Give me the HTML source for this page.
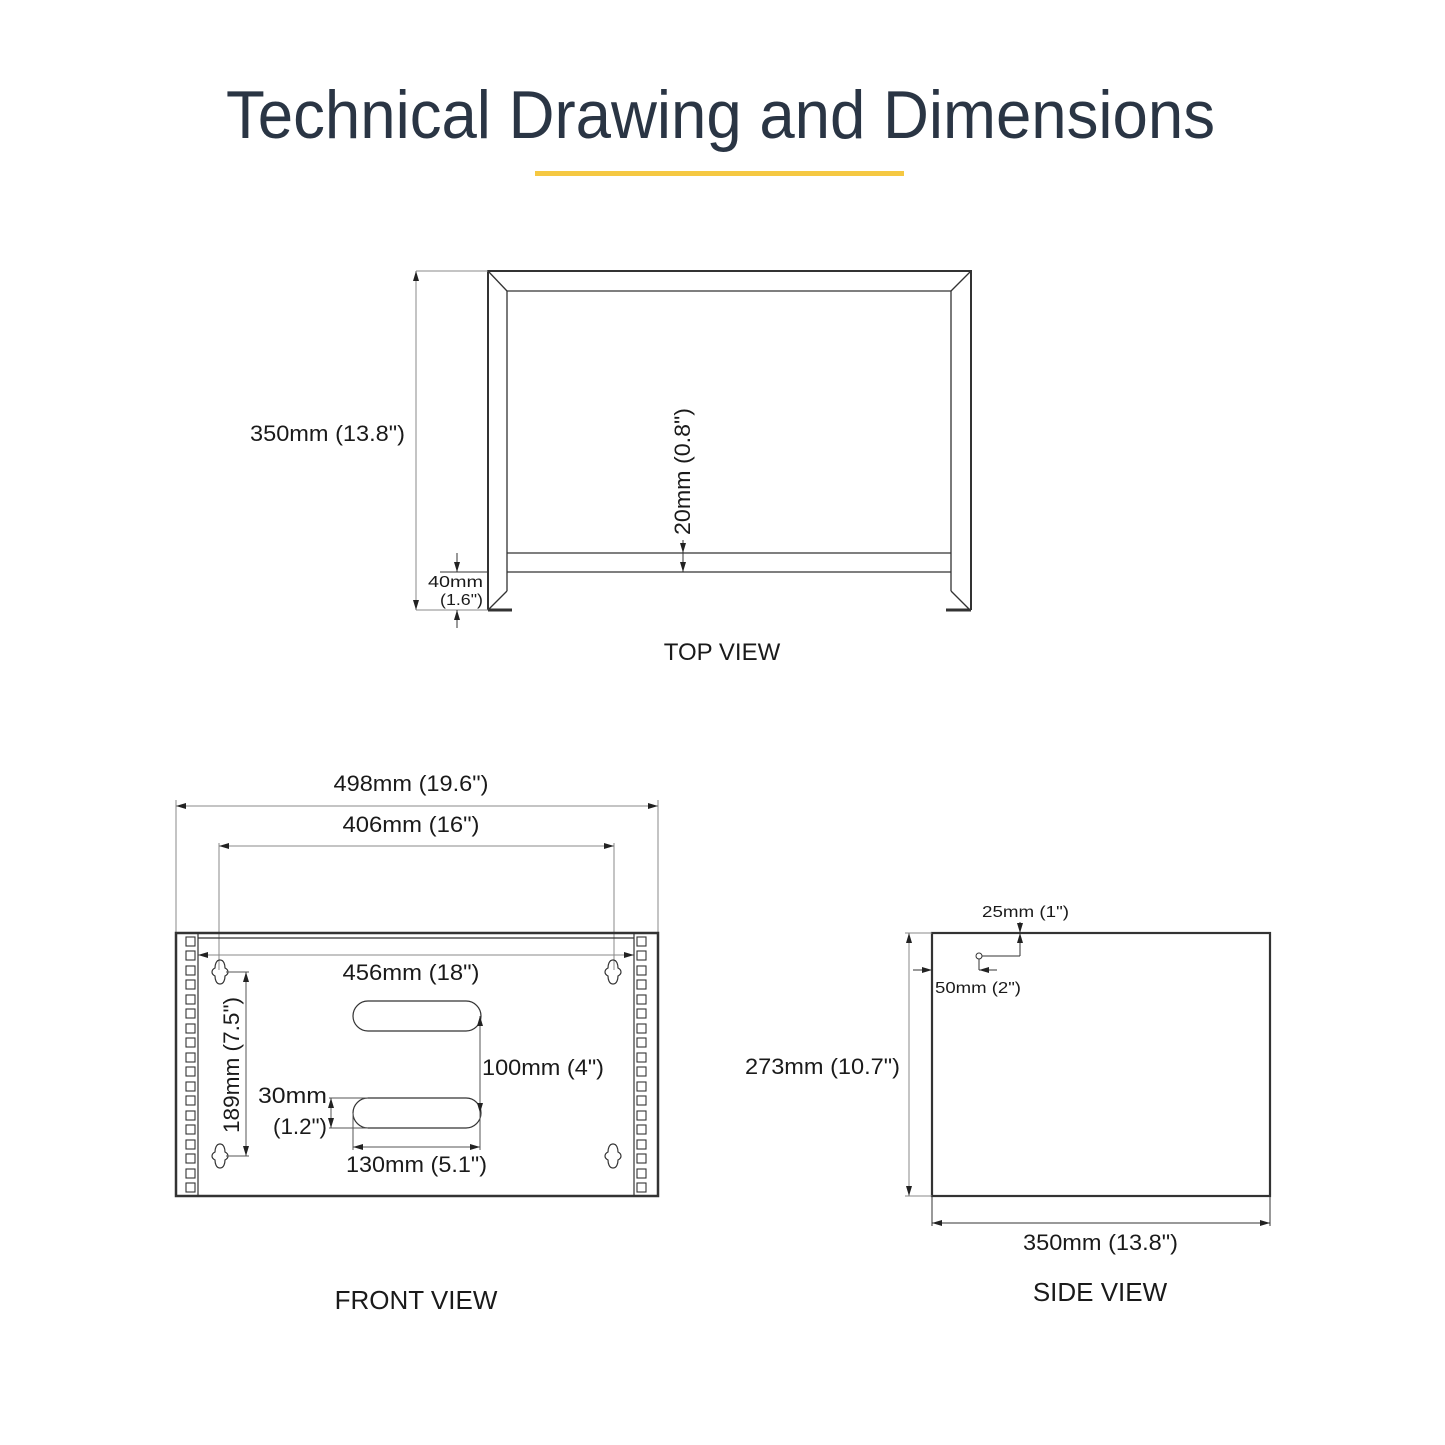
<!DOCTYPE html>
<html><head><meta charset="utf-8"><style>
html,body{margin:0;padding:0;background:#fff;}
svg{display:block;}
text{font-family:"Liberation Sans",sans-serif;fill:#1a1a1a;}
</style></head><body>
<svg width="1445" height="1445" viewBox="0 0 1445 1445" xmlns="http://www.w3.org/2000/svg">
<defs>
<marker id="a" viewBox="0 0 10 6" refX="10" refY="3" markerWidth="10" markerHeight="6" orient="auto-start-reverse" markerUnits="userSpaceOnUse"><path d="M0,0 L10,3 L0,6 z" fill="#222"/></marker>
<path id="kh" d="M0,-12 C4,-12 5,-7 5,-4 C9,-2 9,2 5,4 C5,7 4,12 0,12 C-4,12 -5,7 -5,4 C-9,2 -9,-2 -5,-4 C-5,-7 -4,-12 0,-12 Z" fill="none" stroke="#333" stroke-width="1.2"/>
</defs>
<text x="226" y="138" font-size="68" textLength="989" lengthAdjust="spacingAndGlyphs" style="fill:#2a3544;font-weight:300">Technical Drawing and Dimensions</text>
<rect x="535" y="171" width="369" height="5" fill="#f5c842"/>

<!-- TOP VIEW -->
<g fill="none" stroke="#333" stroke-width="2">
<path d="M488,610 L488,271 L971,271 L971,610"/>
</g>
<g fill="none" stroke="#333" stroke-width="1.3">
<path d="M507,591 L507,291 L951,291 L951,591"/>
<line x1="488" y1="271" x2="507" y2="291"/><line x1="971" y1="271" x2="951" y2="291"/>
<line x1="507" y1="591" x2="489" y2="609"/><line x1="951" y1="591" x2="969" y2="609"/>
<line x1="507" y1="553" x2="951" y2="553"/><line x1="507" y1="572" x2="951" y2="572"/>
</g>
<line x1="488" y1="610" x2="512" y2="610" stroke="#333" stroke-width="3"/>
<line x1="946" y1="610" x2="971" y2="610" stroke="#333" stroke-width="3"/>
<g stroke="#888" stroke-width="1" fill="none">
<line x1="416" y1="271" x2="488" y2="271"/><line x1="416" y1="610" x2="488" y2="610"/>
<line x1="416" y1="271" x2="416" y2="610" marker-start="url(#a)" marker-end="url(#a)"/>
<line x1="440" y1="572" x2="488" y2="572" stroke="#333"/>
</g>
<g stroke="#333" stroke-width="1" fill="none">
<line x1="457" y1="553" x2="457" y2="572" marker-end="url(#a)"/>
<line x1="457" y1="628" x2="457" y2="610" marker-end="url(#a)"/>
<line x1="683" y1="540" x2="683" y2="553" marker-end="url(#a)"/>
<line x1="683" y1="553" x2="683" y2="572" marker-end="url(#a)"/>
</g>
<text x="250" y="441" font-size="22" textLength="155" lengthAdjust="spacingAndGlyphs">350mm (13.8")</text>
<text transform="translate(690,535) rotate(-90)" font-size="22" textLength="127" lengthAdjust="spacingAndGlyphs">20mm (0.8")</text>
<text x="428" y="587" font-size="16" textLength="55" lengthAdjust="spacingAndGlyphs">40mm</text>
<text x="440" y="605" font-size="16" textLength="43" lengthAdjust="spacingAndGlyphs">(1.6")</text>
<text x="722" y="660" font-size="24" text-anchor="middle">TOP VIEW</text>

<!-- FRONT VIEW -->
<g stroke="#888" stroke-width="1" fill="none">
<line x1="176" y1="800" x2="176" y2="933"/><line x1="658" y1="800" x2="658" y2="933"/>
<line x1="176" y1="806" x2="658" y2="806" marker-start="url(#a)" marker-end="url(#a)"/>
<line x1="219" y1="843" x2="219" y2="970"/><line x1="614" y1="843" x2="614" y2="970"/>
<line x1="219" y1="846" x2="614" y2="846" marker-start="url(#a)" marker-end="url(#a)"/>
<line x1="198" y1="955" x2="634" y2="955" marker-start="url(#a)" marker-end="url(#a)"/>
</g>
<rect x="176" y="933" width="482" height="263" fill="none" stroke="#333" stroke-width="2.5"/>
<g stroke="#333" stroke-width="1.2" fill="none">
<line x1="198" y1="933" x2="198" y2="1196"/><line x1="634" y1="933" x2="634" y2="1196"/>
<line x1="198" y1="938" x2="634" y2="938"/>
</g>
<g fill="none" stroke="#333" stroke-width="1.1">
<rect x="186" y="937" width="9" height="9"/><rect x="186" y="951" width="9" height="9"/><rect x="186" y="966" width="9" height="9"/><rect x="186" y="980" width="9" height="9"/><rect x="186" y="995" width="9" height="9"/><rect x="186" y="1009" width="9" height="9"/><rect x="186" y="1024" width="9" height="9"/><rect x="186" y="1038" width="9" height="9"/><rect x="186" y="1053" width="9" height="9"/><rect x="186" y="1067" width="9" height="9"/><rect x="186" y="1082" width="9" height="9"/><rect x="186" y="1096" width="9" height="9"/><rect x="186" y="1111" width="9" height="9"/><rect x="186" y="1125" width="9" height="9"/><rect x="186" y="1140" width="9" height="9"/><rect x="186" y="1154" width="9" height="9"/><rect x="186" y="1169" width="9" height="9"/><rect x="186" y="1183" width="9" height="9"/>
<rect x="637" y="937" width="9" height="9"/><rect x="637" y="951" width="9" height="9"/><rect x="637" y="966" width="9" height="9"/><rect x="637" y="980" width="9" height="9"/><rect x="637" y="995" width="9" height="9"/><rect x="637" y="1009" width="9" height="9"/><rect x="637" y="1024" width="9" height="9"/><rect x="637" y="1038" width="9" height="9"/><rect x="637" y="1053" width="9" height="9"/><rect x="637" y="1067" width="9" height="9"/><rect x="637" y="1082" width="9" height="9"/><rect x="637" y="1096" width="9" height="9"/><rect x="637" y="1111" width="9" height="9"/><rect x="637" y="1125" width="9" height="9"/><rect x="637" y="1140" width="9" height="9"/><rect x="637" y="1154" width="9" height="9"/><rect x="637" y="1169" width="9" height="9"/><rect x="637" y="1183" width="9" height="9"/>
</g>
<use href="#kh" x="220" y="972"/><use href="#kh" x="220" y="1156"/>
<use href="#kh" x="613" y="972"/><use href="#kh" x="613" y="1156"/>
<g fill="none" stroke="#333" stroke-width="1.2">
<path d="M368,1001 L466,1001 A15,15 0 0 1 466,1031 L368,1031 A15,15 0 0 1 368,1001 Z"/>
<path d="M368,1098 L466,1098 A15,15 0 0 1 466,1128 L368,1128 A15,15 0 0 1 368,1098 Z"/>
</g>
<g stroke="#555" stroke-width="1" fill="none">
<line x1="226" y1="972" x2="249" y2="972"/><line x1="226" y1="1156" x2="249" y2="1156"/>
<line x1="246" y1="972" x2="246" y2="1156" marker-start="url(#a)" marker-end="url(#a)"/>
<line x1="480" y1="1016" x2="480" y2="1113" marker-start="url(#a)" marker-end="url(#a)"/>
<line x1="329" y1="1098" x2="368" y2="1098"/><line x1="329" y1="1128" x2="368" y2="1128"/>
<line x1="331" y1="1098" x2="331" y2="1128" marker-start="url(#a)" marker-end="url(#a)"/>
<line x1="353" y1="1113" x2="353" y2="1150"/><line x1="480" y1="1113" x2="480" y2="1150"/>
<line x1="353" y1="1147" x2="480" y2="1147" marker-start="url(#a)" marker-end="url(#a)"/>
</g>
<text x="411" y="791" font-size="22" text-anchor="middle" textLength="155" lengthAdjust="spacingAndGlyphs">498mm (19.6")</text>
<text x="411" y="832" font-size="22" text-anchor="middle" textLength="137" lengthAdjust="spacingAndGlyphs">406mm (16")</text>
<text x="411" y="980" font-size="22" text-anchor="middle" textLength="137" lengthAdjust="spacingAndGlyphs">456mm (18")</text>
<text x="482" y="1075" font-size="22" textLength="122" lengthAdjust="spacingAndGlyphs">100mm (4")</text>
<text x="258" y="1103" font-size="22" textLength="69" lengthAdjust="spacingAndGlyphs">30mm</text>
<text x="273" y="1134" font-size="22" textLength="54" lengthAdjust="spacingAndGlyphs">(1.2")</text>
<text x="346" y="1172" font-size="22" textLength="141" lengthAdjust="spacingAndGlyphs">130mm (5.1")</text>
<text transform="translate(239,1133) rotate(-90)" font-size="22" textLength="136" lengthAdjust="spacingAndGlyphs">189mm (7.5")</text>
<text x="416" y="1309" font-size="26" text-anchor="middle">FRONT VIEW</text>

<!-- SIDE VIEW -->
<rect x="932" y="933" width="338" height="263" fill="none" stroke="#333" stroke-width="2.2"/>
<g stroke="#888" stroke-width="1" fill="none">
<line x1="905" y1="933" x2="932" y2="933"/><line x1="905" y1="1196" x2="932" y2="1196"/>
<line x1="909" y1="933" x2="909" y2="1196" marker-start="url(#a)" marker-end="url(#a)"/>
</g>
<g stroke="#333" stroke-width="1" fill="none">
<line x1="932" y1="1196" x2="932" y2="1226"/><line x1="1270" y1="1196" x2="1270" y2="1226"/>
<line x1="932" y1="1223" x2="1270" y2="1223" marker-start="url(#a)" marker-end="url(#a)"/>
<line x1="1020" y1="922" x2="1020" y2="933" marker-end="url(#a)"/>
<line x1="1020" y1="933" x2="1020" y2="956" marker-start="url(#a)"/>
<line x1="982" y1="956" x2="1020" y2="956"/>
<line x1="979" y1="959" x2="979" y2="970"/>
<line x1="997" y1="970" x2="979" y2="970" marker-end="url(#a)"/>
<line x1="913" y1="970" x2="932" y2="970" marker-end="url(#a)"/>
<circle cx="979" cy="956" r="3"/>
</g>
<text x="982" y="917" font-size="16" textLength="87" lengthAdjust="spacingAndGlyphs">25mm (1")</text>
<text x="935" y="993" font-size="16" textLength="86" lengthAdjust="spacingAndGlyphs">50mm (2")</text>
<text x="745" y="1074" font-size="22" textLength="155" lengthAdjust="spacingAndGlyphs">273mm (10.7")</text>
<text x="1023" y="1250" font-size="22" textLength="155" lengthAdjust="spacingAndGlyphs">350mm (13.8")</text>
<text x="1100" y="1301" font-size="26" text-anchor="middle">SIDE VIEW</text>
</svg>
</body></html>
